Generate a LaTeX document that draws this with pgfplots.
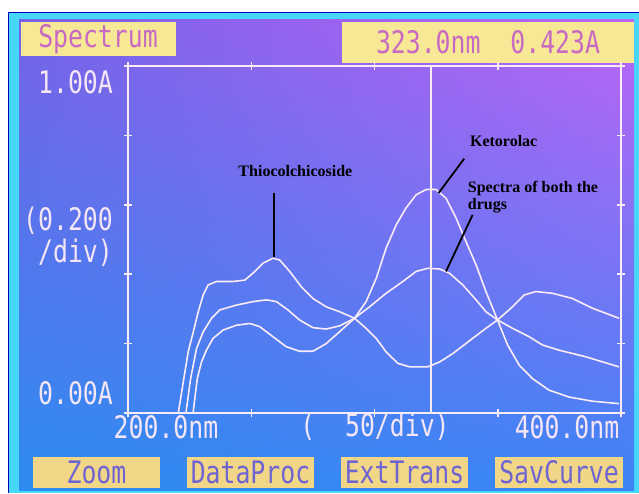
\documentclass[border=0pt]{standalone}
\usepackage{pgfplots}
\pgfplotsset{compat=1.18}
\usetikzlibrary{shadings}
\usepackage{fontspec}
\setmainfont{Liberation Serif}
\newfontfamily\lcd[FakeStretch=0.8]{DejaVu Sans Mono}
\definecolor{frame}{RGB}{70,215,250}
\definecolor{ul}{RGB}{118,98,232}
\definecolor{ur}{RGB}{190,100,245}
\definecolor{ll}{RGB}{45,140,240}
\definecolor{lr}{RGB}{60,132,245}
\definecolor{lcdfg}{RGB}{245,230,245}
\definecolor{topbox}{RGB}{246,232,148}
\definecolor{topfg}{RGB}{200,105,195}
\definecolor{btnbox}{RGB}{242,214,135}
\definecolor{btnfg}{RGB}{110,100,210}
\definecolor{curve}{RGB}{250,236,246}

\pgfplotstableread{
nm A
220.4 0.000
224.4 0.176
226.5 0.234
228.5 0.292
230.5 0.340
232.5 0.369
235.9 0.379
242.6 0.379
247.4 0.383
250.7 0.403
254.8 0.432
258.8 0.446
261.5 0.441
265.6 0.408
270.3 0.364
275.0 0.330
280.4 0.306
285.8 0.292
291.9 0.273
296.6 0.244
300.7 0.215
304.7 0.176
309.5 0.143
314.2 0.133
321.6 0.133
326.4 0.147
331.7 0.171
339.8 0.215
345.2 0.244
349.9 0.268
356.0 0.306
360.7 0.340
365.4 0.350
372.2 0.345
380.3 0.330
388.4 0.302
399.2 0.273
}\thio

\pgfplotstableread{
nm A
226.4 0.000
228.1 0.099
229.8 0.147
231.8 0.181
234.5 0.215
238.6 0.239
244.0 0.253
249.4 0.258
253.4 0.249
258.8 0.220
264.2 0.191
269.6 0.178
275.0 0.178
280.4 0.200
285.8 0.234
291.9 0.273
296.6 0.321
300.7 0.388
304.7 0.475
308.8 0.542
312.8 0.591
316.9 0.629
320.9 0.644
325.0 0.644
329.0 0.619
333.1 0.562
337.1 0.494
341.2 0.427
345.2 0.350
349.9 0.268
354.0 0.196
358.7 0.138
364.1 0.099
370.8 0.066
378.9 0.046
388.4 0.034
399.2 0.027
}\keto

\pgfplotstableread{
nm A
223.5 0.000
225.4 0.099
227.8 0.186
230.5 0.234
233.9 0.273
237.2 0.297
244.0 0.311
250.7 0.321
256.1 0.326
260.2 0.321
264.9 0.297
269.6 0.268
275.0 0.246
280.4 0.242
285.8 0.251
291.9 0.273
298.0 0.306
304.7 0.345
311.5 0.379
316.9 0.408
321.6 0.417
326.4 0.415
330.4 0.403
335.8 0.369
341.2 0.326
345.2 0.292
349.9 0.268
356.0 0.244
362.7 0.220
368.1 0.196
374.9 0.181
385.7 0.162
399.2 0.133
}\mix

\begin{document}
\begin{tikzpicture}
\begin{scope}[x=1pt,y=1pt]
\fill[white] (0,0) rectangle (639,493);
\fill[frame] (8,0) rectangle (639,481);
\draw[blue!75!black, line width=1.2pt] (8.6,0) -- (8.6,480.4) -- (639,480.4);
\shade[upper left=ul, upper right=ur, lower left=ll, lower right=lr] (19,3) rectangle (634,473);
% top boxes
\fill[topbox] (21,437) rectangle (176,471);
\node[text=topfg, font=\lcd\fontsize{31}{31}\selectfont, inner sep=0] at (98,454) {Spectrum};
\fill[topbox] (342,430) rectangle (634,471);
\node[text=topfg, font=\lcd\fontsize{31}{31}\selectfont, inner sep=0] at (488,451) {323.0nm\ \ 0.423A};
% buttons
\foreach \xa/\xb/\t in {33/160/Zoom, 187/314/DataProc, 341/468/ExtTrans, 495/623/SavCurve}{
  \fill[btnbox] (\xa,5) rectangle (\xb,36);
  \node[text=btnfg, font=\lcd\fontsize{31}{31}\selectfont, inner sep=0] at ({(\xa+\xb)/2},20.5) {\t};
}
% y labels
\begin{scope}[every node/.style={text=lcdfg, font=\lcd\fontsize{31}{31}\selectfont, inner sep=0, anchor=east}]
\node at (113,411) {1.00A};
\node at (113,272) {(0.200};
\node at (113,240) {/div)};
\node at (113,100) {0.00A};
\end{scope}
\begin{scope}[every node/.style={text=lcdfg, font=\lcd\fontsize{31}{31}\selectfont, inner sep=0}]
\node at (166,66) {200.0nm};
\node at (375,66) {(\ \ 50/div)};
\node at (567,66) {400.0nm};
\end{scope}
\end{scope}
\begin{axis}[at={(128pt,80pt)}, anchor=south west, scale only axis,
  width=493pt, height=347pt,
  xmin=200, xmax=400, ymin=0, ymax=1,
  xtick={200,250,...,400}, ytick={0,0.2,0.4,0.6,0.8,1},
  xticklabels={}, yticklabels={},
  tick pos=both, tick align=center,
  major tick length=8pt,
  axis line style={curve, line width=1.5pt},
  every tick/.style={curve, line width=1.5pt},
  clip=true]
\addplot[curve, line width=1.5pt] coordinates {(323,0) (323,1)};
\addplot[curve, line width=1.6pt] table[x=nm, y=A] {\thio};
\addplot[curve, line width=1.6pt] table[x=nm, y=A] {\keto};
\addplot[curve, line width=1.6pt] table[x=nm, y=A] {\mix};
% annotations
\node[font=\bfseries\fontsize{16}{17}\selectfont, text=black] at (axis cs:267.9,0.697) {Thiocolchicoside};
\draw[black, line width=1.8pt] (axis cs:259.1,0.634) -- (axis cs:259.1,0.451);
\node[font=\bfseries\fontsize{16}{17}\selectfont, text=black] at (axis cs:352.4,0.785) {Ketorolac};
\draw[black, line width=1.8pt] (axis cs:336.4,0.733) -- (axis cs:326.0,0.634);
\node[font=\bfseries\fontsize{16}{17}\selectfont, text=black, align=left, anchor=west, inner sep=0] at (axis cs:337.8,0.622) {Spectra of both the\\drugs};
\draw[black, line width=1.8pt] (axis cs:339.8,0.571) -- (axis cs:329.0,0.408);
\end{axis}
\pgfresetboundingbox
\useasboundingbox (0pt,0pt) rectangle (639pt,493pt);
\end{tikzpicture}
\end{document}
